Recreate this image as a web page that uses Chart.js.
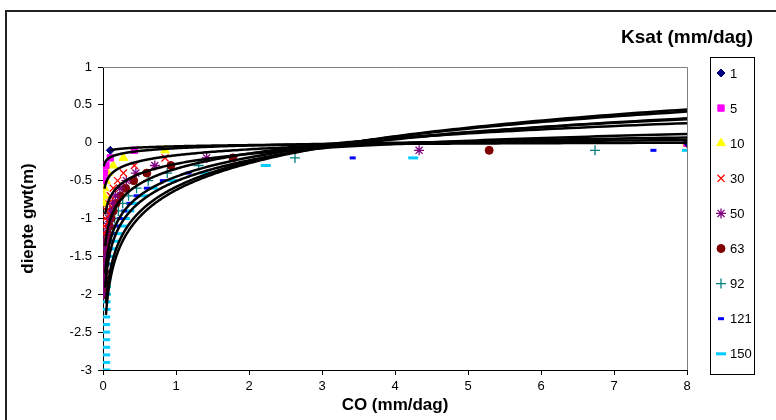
<!DOCTYPE html>
<html>
<head>
<meta charset="utf-8">
<script src="https://cdn.jsdelivr.net/npm/chart.js@4.4.0/dist/chart.umd.min.js"></script>
<style>
    html, body { margin: 0; padding: 0; background: #fff; overflow: hidden; }
    #wrap { position: relative; width: 776px; height: 420px; overflow: hidden; }
    #frame { position: absolute; left: 5px; top: 10px; width: 820px; height: 460px; border: 2px solid #222; box-sizing: border-box; }
    #c { position: absolute; left: 0; top: 0; }
</style>
</head>
<body>
<div id="wrap">
    <div id="frame"></div>
    <canvas id="c" width="776" height="420"></canvas>
</div>
<script>
// groundwater depth (m), one value per row of CO values
const depths = [0, -0.1, -0.2, -0.3, -0.4, -0.5, -0.6, -0.7, -0.8, -0.9, -1.0,
    -1.1, -1.2, -1.3, -1.4, -1.5, -1.6, -1.7, -1.8, -1.9, -2.0,
    -2.1, -2.2, -2.3, -2.4, -2.5, -2.6, -2.7, -2.8, -2.9, -3.0];

// Ksat classes (mm/dag)
const ksatLabels = ['1', '5', '10', '30', '50', '63', '92', '121', '150'];

// capillary rise CO (mm/dag) per depth
const co1 = [8, 0.1];
const co5 = [8, 0.43, 0.1, 0.04, 0.02, 0.01];
const co10 = [8, 0.85, 0.28, 0.14, 0.07, 0.04, 0.02, 0.015, 0.01];
const co30 = [8, 2.6, 0.85, 0.43, 0.28, 0.2, 0.14, 0.1, 0.07, 0.05, 0.03, 0.02, 0.01];
const co50 = [8, 4.33, 1.42, 0.71, 0.45, 0.32, 0.23, 0.17, 0.13, 0.1, 0.08,
    0.06, 0.045, 0.035, 0.028, 0.022, 0.018, 0.015, 0.012, 0.01, 0.01];
const co63 = [8, 5.29, 1.78, 0.93, 0.6, 0.42, 0.31, 0.24, 0.18, 0.14, 0.11,
    0.085, 0.065, 0.05, 0.04, 0.03, 0.025, 0.02, 0.016, 0.013, 0.01];
const co92 = [8, 6.74, 2.63, 1.31, 0.88, 0.62, 0.46, 0.35, 0.27, 0.21, 0.16,
    0.125, 0.1, 0.08, 0.06, 0.05, 0.04, 0.032, 0.026, 0.02, 0.02];
const co121 = [8, 7.54, 3.42, 1.76, 1.17, 0.82, 0.6, 0.46, 0.36, 0.29, 0.23,
    0.18, 0.14, 0.11, 0.085, 0.065, 0.05, 0.04, 0.032, 0.026, 0.02];
const co150 = [null, 8, 4.25, 2.23, 1.4, 0.95, 0.68, 0.55, 0.42, 0.36, 0.3,
    0.26, 0.2, 0.16, 0.12, 0.1, 0.07, 0.05, 0.045, 0.04, 0.04,
    0.035, 0.035, 0.03, 0.03, 0.03, 0.03, 0.03, 0.03, 0.03, 0.03];

// logarithmic trendlines y = a*ln(x) + b per Ksat class
const trendA = [0.0228, 0.052, 0.113, 0.19, 0.29, 0.365, 0.40, 0.478, 0.512];
const trendB = [-0.047, -0.0725, -0.1655, -0.279, -0.344, -0.448, -0.5095, -0.583, -0.625];
const trendFrom = [0.1, 0.01, 0.02, 0.03, 0.03, 0.03, 0.03, 0.04, 0.04];
const trendTo = [8, 8, 8, 8, 8, 8, 8, 8, 8];

const xTicks = [0, 1, 2, 3, 4, 5, 6, 7, 8];
const yTicks = [1, 0.5, 0, -0.5, -1, -1.5, -2, -2.5, -3];

const allCO = [co1, co5, co10, co30, co50, co63, co92, co121, co150];
const colors = ['#000080', '#FF00FF', '#FFFF00', '#FF0000', '#800080', '#800000', '#008080', '#0000FF', '#00CCFF'];
const styles = ['rectRot', 'rect', 'triangle', 'crossRot', 'star', 'circle', 'cross', 'line', 'line'];
const radii = [4, 4.5, 5, 5, 5, 4, 5, 3, 5];
const widths = [1, 1, 1, 1.3, 1.3, 1, 1.3, 3, 3];

function toPoints(co) {
    const pts = [];
    co.forEach((v, i) => {
        if (v !== null) pts.push({ x: v, y: depths[i] });
    });
    return pts;
}

const datasets = allCO.map((co, i) => ({
    label: ksatLabels[i],
    data: toPoints(co),
    showLine: false,
    pointStyle: styles[i],
    pointRadius: radii[i],
    pointHoverRadius: radii[i],
    pointBackgroundColor: colors[i],
    pointBorderColor: colors[i],
    pointBorderWidth: widths[i]
}));

Chart.defaults.font.family = "'Liberation Sans', Arial, sans-serif";
Chart.defaults.color = '#000';

// trendlines plus the grey frame of the plot area
const trendPlugin = {
    id: 'trend',
    afterDatasetsDraw(chart) {
        const ctx = chart.ctx;
        const xs = chart.scales.x, ys = chart.scales.y;
        const area = chart.chartArea;
        ctx.save();
        ctx.beginPath();
        ctx.rect(area.left, area.top, area.right - area.left, area.bottom - area.top);
        ctx.clip();
        ctx.strokeStyle = '#000';
        ctx.lineWidth = 2.5;
        ctx.lineJoin = 'round';
        for (let i = 0; i < trendA.length; i++) {
            const l0 = Math.log(trendFrom[i]), l1 = Math.log(trendTo[i]);
            ctx.beginPath();
            for (let s = 0; s <= 300; s++) {
                const lx = l0 + (l1 - l0) * s / 300;
                const px = xs.getPixelForValue(Math.exp(lx));
                const py = ys.getPixelForValue(trendA[i] * lx + trendB[i]);
                if (s === 0) ctx.moveTo(px, py); else ctx.lineTo(px, py);
            }
            ctx.stroke();
        }
        ctx.restore();

        ctx.save();
        ctx.strokeStyle = '#808080';
        ctx.lineWidth = 1;
        ctx.beginPath();
        ctx.moveTo(area.left, area.top + 0.5);
        ctx.lineTo(area.right + 0.5, area.top + 0.5);
        ctx.lineTo(area.right + 0.5, area.bottom);
        ctx.stroke();
        ctx.restore();
    }
};

// legend box on the right, drawn by hand
const legendPlugin = {
    id: 'ksatLegend',
    afterDraw(chart) {
        const ctx = chart.ctx;
        ctx.save();
        ctx.fillStyle = '#000';
        ctx.font = "bold 19px 'Liberation Sans', Arial, sans-serif";
        ctx.textAlign = 'right';
        ctx.textBaseline = 'middle';
        ctx.fillText('Ksat (mm/dag)', 753, 38);

        ctx.strokeStyle = '#000';
        ctx.lineWidth = 1;
        ctx.strokeRect(710.5, 57.5, 44, 317);

        ctx.font = "13px 'Liberation Sans', Arial, sans-serif";
        ctx.textAlign = 'left';
        chart.data.datasets.forEach((ds, i) => {
            const y = 73 + i * 35.1;
            ctx.fillStyle = colors[i];
            ctx.strokeStyle = colors[i];
            ctx.lineWidth = widths[i];
            Chart.helpers.drawPoint(ctx, { pointStyle: styles[i], radius: radii[i], rotation: 0, borderWidth: widths[i] }, 721, y);
            ctx.fillStyle = '#000';
            ctx.fillText(ds.label, 730, y + 1);
        });
        ctx.restore();
    }
};

new Chart(document.getElementById('c'), {
    type: 'scatter',
    data: { datasets: datasets },
    options: {
        responsive: false,
        animation: false,
        layout: { padding: { left: 0, top: 67, right: 89, bottom: 0 } },
        plugins: {
            legend: { display: false },
            tooltip: { enabled: false }
        },
        scales: {
            x: {
                type: 'linear',
                min: 0,
                max: 8,
                afterFit(scale) { scale.height = 50; },
                afterBuildTicks(scale) { scale.ticks = xTicks.map(v => ({ value: v })); },
                ticks: { font: { size: 13 }, color: '#000', padding: 4, callback: v => String(v) },
                grid: { drawOnChartArea: false, color: '#000', tickLength: 5 },
                border: { color: '#000', width: 1 },
                title: { display: true, text: 'CO (mm/dag)', font: { size: 17, weight: 'bold' }, color: '#000', padding: { top: 4, bottom: 4 } }
            },
            y: {
                type: 'linear',
                min: -3,
                max: 1,
                afterFit(scale) { scale.width = 103; },
                afterBuildTicks(scale) { scale.ticks = yTicks.map(v => ({ value: v })); },
                ticks: { font: { size: 13 }, color: '#000', padding: 6, callback: v => String(v) },
                grid: { drawOnChartArea: false, color: '#000', tickLength: 5 },
                border: { color: '#000', width: 1 },
                title: { display: true, text: 'diepte gwt(m)', font: { size: 17, weight: 'bold' }, color: '#000', padding: { top: 18, bottom: 0 } }
            }
        }
    },
    plugins: [trendPlugin, legendPlugin]
});
</script>
</body>
</html>
